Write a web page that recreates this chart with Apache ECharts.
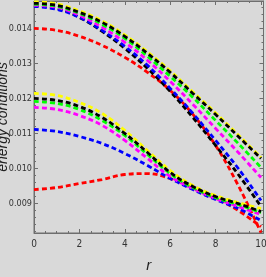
<!DOCTYPE html>
<html>
<head>
<meta charset="utf-8">
<script src="https://cdn.jsdelivr.net/npm/echarts@6/dist/echarts.min.js"></script>
<style>
html,body{margin:0;padding:0;background:#d9d9d9;}
#c{width:266px;height:277px;}
</style>
</head>
<body>
<div id="c"></div>
<script>
const r = [0,1,2,3,4,5,6,7,8,9,10];
const xTicks = [0,2,4,6,8,10];
const yTicks = [0.009,0.010,0.011,0.012,0.013,0.014];
const yTickLabels = ['0.009','0.010','0.011','0.012','0.013','0.014'];

// upper family
const upYellow  = [0.014757,0.0147,0.0145,0.014214,0.013814,0.013329,0.012786,0.012186,0.011586,0.010957,0.010314];
const upBlack   = [0.014714,0.014657,0.014457,0.014171,0.013771,0.013286,0.012743,0.012143,0.011543,0.010914,0.010286];
const upGreen   = [0.014686,0.014629,0.014429,0.014114,0.013714,0.0132,0.012629,0.012029,0.011371,0.010714,0.010029];
const upMagenta = [0.014657,0.0146,0.014371,0.014029,0.0136,0.013086,0.012486,0.011829,0.011143,0.010457,0.009743];
const upBlue    = [0.014629,0.014543,0.014314,0.013943,0.013486,0.012943,0.012286,0.011571,0.0108,0.01,0.009086];
const upBlack2  = [0.014657,0.014571,0.014314,0.013914,0.013429,0.012857,0.0122,0.011457,0.010657,0.009829,0.008914];
const upRed     = [0.014,0.013943,0.013771,0.013514,0.013171,0.012743,0.012229,0.011543,0.010657,0.009514,0.008171];
// lower family
const loYellow  = [0.012143,0.012086,0.011886,0.011571,0.011086,0.010514,0.009943,0.009514,0.009229,0.009029,0.008857];
const loBlack   = [0.012,0.011943,0.011771,0.011457,0.011,0.010457,0.009886,0.009486,0.0092,0.009,0.008771];
const loGreen   = [0.011914,0.011857,0.011686,0.011371,0.010943,0.0104,0.009857,0.009457,0.009171,0.008971,0.008743];
const loMagenta = [0.011743,0.011686,0.011514,0.011229,0.0108,0.010286,0.009771,0.009429,0.009143,0.008914,0.008686];
const loBlue    = [0.011114,0.011057,0.010914,0.010714,0.010429,0.010086,0.009714,0.0094,0.009114,0.008857,0.008514];
const loRed     = [0.0094,0.009457,0.009571,0.009686,0.009829,0.009857,0.009714,0.009457,0.009171,0.0088,0.008343];

const yMin = 0.00816, yMax = 0.01478, xMax = 10.11;
const yMinor = [];
for (let i = 41; i <= 73; i++) { yMinor.push(+(i*0.0002).toFixed(4)); }

function mk(data, color) {
  return {
    type: 'line', data: r.map((x,i)=>[x,data[i]]), smooth: 0.4, symbol: 'none',
    lineStyle: {color: color, width: 2.8, type: [5,3]}, z: 3, silent: true
  };
}
const chart = echarts.init(document.getElementById('c'), null, {renderer:'canvas'});
const axisCol = '#6e6e6e';
const labelStyle = {color:'#333', fontSize:9, fontFamily:'"Liberation Sans Narrow", "DejaVu Sans Condensed", Arial, sans-serif'};
chart.setOption({
  backgroundColor: '#d9d9d9',
  animation: false,
  grid: {left: 34, right: 2.5, top: 1, bottom: 44, containLabel: false, outerBoundsMode: 'none',
         show: true, borderColor: axisCol, borderWidth: 1, backgroundColor: '#d9d9d9'},
  xAxis: [
    {type:'value', min:0, max:xMax, interval:2, position:'bottom',
     axisLine:{show:true, lineStyle:{color:axisCol}},
     axisTick:{show:true, inside:true, length:4, lineStyle:{color:axisCol}},
     minorTick:{show:true, splitNumber:4, length:2, lineStyle:{color:axisCol}},
     splitLine:{show:false},
     axisLabel:{...labelStyle, fontSize:10, margin:6, customValues: xTicks, formatter: v=>String(v)},
     name:'r', nameLocation:'middle', nameGap:25, nameMoveOverlap:false,
     nameTextStyle:{fontSize:15, fontStyle:'italic', color:'#222', fontFamily:'Liberation Sans, Arial, sans-serif'}},
    {type:'value', min:0, max:xMax, interval:2, position:'top',
     axisLine:{show:true, lineStyle:{color:axisCol}},
     axisTick:{show:true, inside:true, length:4, lineStyle:{color:axisCol}},
     minorTick:{show:true, splitNumber:4, length:2, lineStyle:{color:axisCol}},
     splitLine:{show:false}, axisLabel:{show:false}}
  ],
  yAxis: [
    {type:'value', min:yMin, max:yMax, position:'left',
     axisLine:{show:true, lineStyle:{color:axisCol}},
     axisTick:{show:true, inside:true, length:4, customValues: yTicks, lineStyle:{color:axisCol}},
     splitLine:{show:false},
     axisLabel:{...labelStyle, margin:2, customValues: yTicks, formatter: v=>{const i=yTicks.findIndex(t=>Math.abs(t-v)<1e-7); return i>=0?yTickLabels[i]:'';}},
     name:'energy conditions', nameLocation:'middle', nameGap:24, nameRotate:90, nameMoveOverlap:false,
     nameTextStyle:{fontSize:14, fontStyle:'italic', color:'#222', fontFamily:'Liberation Sans, Arial, sans-serif'}},
    {type:'value', min:yMin, max:yMax, position:'left',
     axisLine:{show:false},
     axisTick:{show:true, inside:true, length:2, customValues: yMinor, lineStyle:{color:axisCol}},
     splitLine:{show:false}, axisLabel:{show:false}},
    {type:'value', min:yMin, max:yMax, position:'right',
     axisLine:{show:true, lineStyle:{color:axisCol}},
     axisTick:{show:true, inside:true, length:4, customValues: yTicks, lineStyle:{color:axisCol}},
     splitLine:{show:false}, axisLabel:{show:false}},
    {type:'value', min:yMin, max:yMax, position:'right',
     axisLine:{show:false},
     axisTick:{show:true, inside:true, length:2, customValues: yMinor, lineStyle:{color:axisCol}},
     splitLine:{show:false}, axisLabel:{show:false}}
  ],
  series: [
    mk(upRed,'#ff0000'), mk(upBlack2,'#000000'), mk(upBlue,'#0000ff'), mk(upMagenta,'#ff00ff'), mk(upGreen,'#00ff00'), mk(upYellow,'#ffff00'), mk(upBlack,'#000000'),
    mk(loRed,'#ff0000'), mk(loBlue,'#0000ff'), mk(loMagenta,'#ff00ff'), mk(loGreen,'#00ff00'), mk(loYellow,'#ffff00'), mk(loBlack,'#000000')
  ]
});
</script>
</body>
</html>
